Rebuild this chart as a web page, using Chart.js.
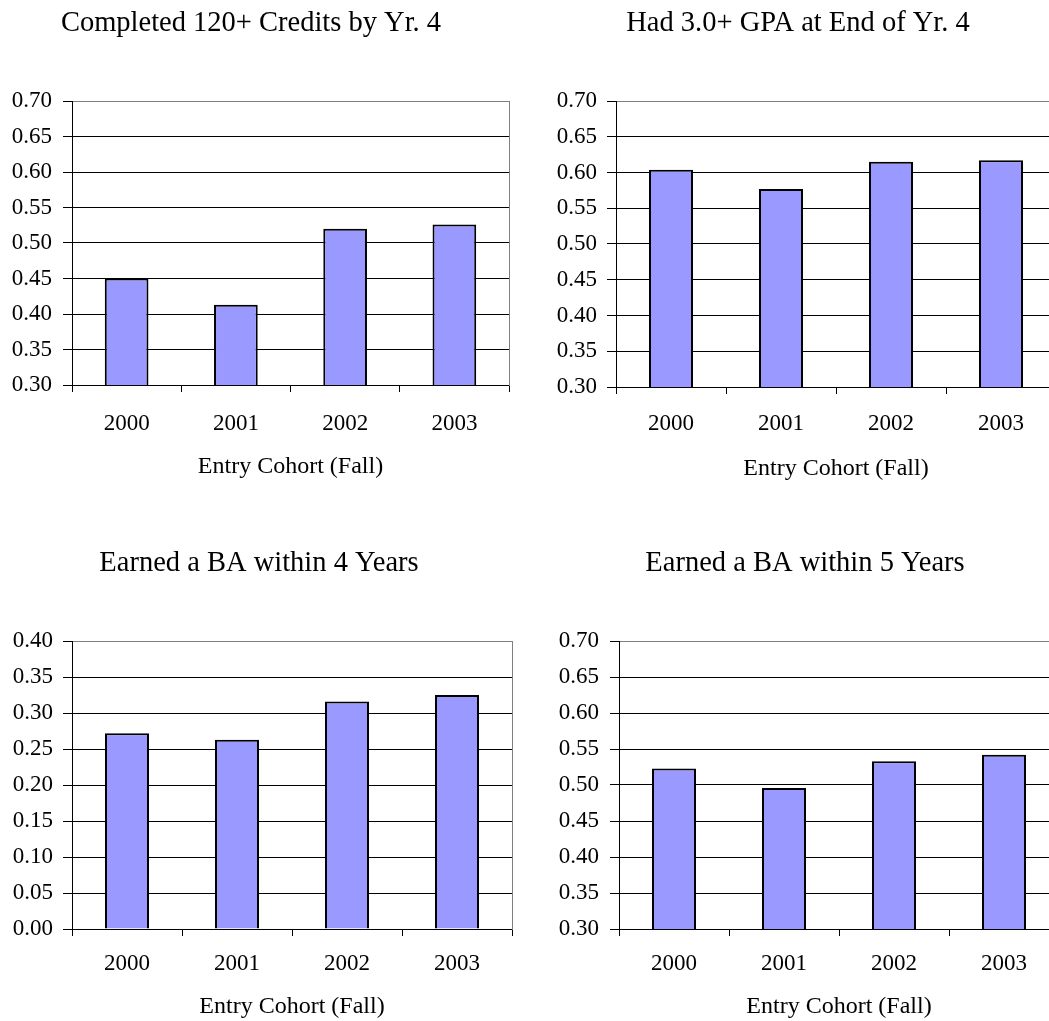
<!DOCTYPE html>
<html>
<head>
<meta charset="utf-8">
<script src="https://cdn.jsdelivr.net/npm/chart.js@4/dist/chart.umd.min.js"></script>
<style>
  html, body { margin: 0; padding: 0; background: #fff; }
  body { position: relative; width: 1049px; height: 1021px; overflow: hidden; }
  canvas { position: absolute; }
</style>
</head>
<body>
<canvas id="panel1"></canvas>
<canvas id="panel2"></canvas>
<canvas id="panel3"></canvas>
<canvas id="panel4"></canvas>
<script>
// ---- data ----
const cohorts = ['2000', '2001', '2002', '2003'];
const credits120ByYr4 = [0.450, 0.413, 0.520, 0.526];
const gpa30EndYr4 = [0.604, 0.577, 0.615, 0.617];
const baWithin4 = [0.272, 0.263, 0.316, 0.325];
const baWithin5 = [0.523, 0.496, 0.533, 0.542];

const panelTitles = [
  'Completed 120+ Credits by Yr. 4',
  'Had 3.0+ GPA at End of Yr. 4',
  'Earned a BA within 4 Years',
  'Earned a BA within 5 Years'
];
const xAxisTitle = 'Entry Cohort (Fall)';
const yMins = [0.30, 0.30, 0.00, 0.30];
const yMaxs = [0.70, 0.70, 0.40, 0.70];
const yStep = 0.05;

// ---- layout & style ----
const FONT = "'Liberation Serif', 'Times New Roman', serif";
const BAR_FILL = '#9999FF';
const panels = [
  { id: 'panel1', values: credits120ByYr4, left: 0,   top: 0,   w: 525, h: 500, yW: 72, padTop: 101, padRight: 16, xH: 115, xTickPad: 18.5, yTickPad: 11, titleX: 251, titleBase: 30.7, axisTitlePad: 18.9 },
  { id: 'panel2', values: gpa30EndYr4,     left: 547, top: 0,   w: 530, h: 500, yW: 69, padTop: 101, padRight: 21, xH: 113, xTickPad: 16.5, yTickPad: 10, titleX: 798, titleBase: 30.7, axisTitlePad: 17.3 },
  { id: 'panel3', values: baWithin4,       left: 0,   top: 540, w: 525, h: 481, yW: 72, padTop: 101, padRight: 13, xH: 92,  xTickPad: 14.5, yTickPad: 10, titleX: 259, titleBase: 30.7, axisTitlePad: 0 },
  { id: 'panel4', values: baWithin5,       left: 555, top: 540, w: 522, h: 481, yW: 64, padTop: 101, padRight: 18, xH: 92,  xTickPad: 14, yTickPad: 11, titleX: 805, titleBase: 30.7, axisTitlePad: 0 }
];

// Panel heading drawn above the plot, centred on a fixed page position
const panelHeading = {
  id: 'panelHeading',
  afterDraw(chart, args, opts) {
    const ctx = chart.ctx;
    ctx.save();
    ctx.font = opts.font;
    ctx.fillStyle = '#000';
    ctx.textAlign = 'center';
    ctx.textBaseline = 'alphabetic';
    ctx.fillText(opts.text, opts.x, opts.y);
    ctx.restore();
  }
};

panels.forEach((p, i) => {
  const cv = document.getElementById(p.id);
  cv.width = p.w; cv.height = p.h;
  cv.style.left = p.left + 'px'; cv.style.top = p.top + 'px';
  cv.style.width = p.w + 'px'; cv.style.height = p.h + 'px';
  const yMax = yMaxs[i];

  new Chart(cv, {
    type: 'bar',
    data: {
      labels: cohorts,
      datasets: [{
        data: p.values,
        backgroundColor: BAR_FILL,
        borderColor: '#000',
        borderWidth: 2,
        barPercentage: 0.4,
        categoryPercentage: 1.0
      }]
    },
    plugins: [panelHeading],
    options: {
      responsive: false,
      devicePixelRatio: 1,
      animation: false,
      events: [],
      layout: { padding: { top: p.padTop, right: p.padRight, left: 0, bottom: 0 } },
      plugins: {
        legend: { display: false },
        tooltip: { enabled: false },
        title: { display: false },
        panelHeading: { text: panelTitles[i], x: p.titleX - p.left, y: p.titleBase, font: '28.5px ' + FONT }
      },
      scales: {
        x: {
          offset: true,
          grid: { offset: true, drawOnChartArea: false, drawTicks: true, tickLength: 7, color: '#000', lineWidth: 1 },
          border: { display: true, color: '#000', width: 1 },
          ticks: { color: '#000', font: { family: FONT, size: 23, lineHeight: 1.2 }, padding: p.xTickPad, maxRotation: 0 },
          title: { display: true, text: xAxisTitle, color: '#000', font: { family: FONT, size: 24, lineHeight: 1.2 }, padding: { top: 0, bottom: p.axisTitlePad } },
          afterFit: (s) => { s.height = p.xH; }
        },
        y: {
          min: yMins[i],
          max: yMax,
          ticks: {
            stepSize: yStep,
            color: '#000',
            font: { family: FONT, size: 23 },
            padding: p.yTickPad,
            callback: (v) => Number(v).toFixed(2)
          },
          grid: {
            drawTicks: true,
            tickLength: 9,
            lineWidth: 1,
            tickColor: '#000',
            color: (c) => (c.tick && Math.abs(c.tick.value - yMax) < 1e-9) ? '#808080' : '#000'
          },
          border: { display: true, color: '#000', width: 1 },
          afterFit: (s) => { s.width = p.yW; }
        },
        yRight: {
          position: 'right',
          display: true,
          ticks: { display: false },
          grid: { drawOnChartArea: false, drawTicks: false },
          border: { display: true, color: '#808080', width: 1 },
          afterFit: (s) => { s.width = 0; }
        }
      }
    }
  });
});
</script>
</body>
</html>
